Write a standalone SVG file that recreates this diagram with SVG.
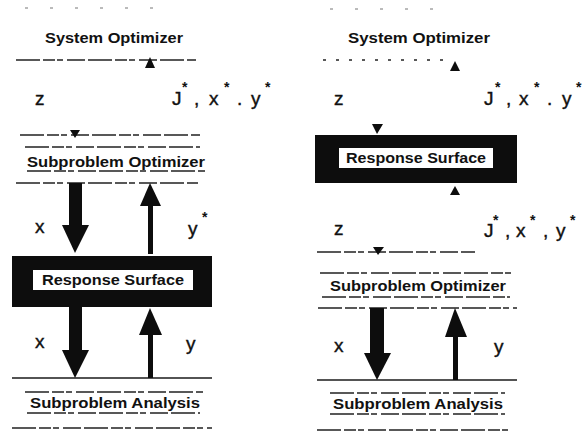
<svg xmlns="http://www.w3.org/2000/svg" width="585" height="431" viewBox="0 0 585 431">
<defs>
<style>
.lbl{font-family:"Liberation Sans",Arial,sans-serif;font-weight:bold;font-size:15px;fill:#111;text-anchor:middle}
.var{font-family:"Liberation Sans",Arial,sans-serif;font-size:19px;fill:#111;stroke:#111;stroke-width:0.4}
.st{font-family:"Liberation Sans",Arial,sans-serif;font-weight:bold;font-size:14px;fill:#111}
.ln{stroke:#1a1a1a;stroke-width:1.3;fill:none}
.dl{stroke:#222;stroke-width:1.3;fill:none;stroke-dasharray:24 3 12 2 6 4 18 3}
.fl{stroke:#777;stroke-width:1;fill:none;stroke-dasharray:3 22}
.blk{fill:#0d0d0d}
</style>
</defs>
<rect width="585" height="431" fill="#fff"/>

<!-- LEFT PANEL -->
<g id="L-system-optimizer">
<line class="fl" x1="25" y1="8" x2="167" y2="8"/>
<text class="lbl" x="114" y="43" textLength="138" lengthAdjust="spacingAndGlyphs">System Optimizer</text>
<line class="dl" x1="16" y1="60" x2="196" y2="60"/>
</g>
<g id="L-vars-top">
<text class="var" x="35" y="105">z</text>
<text class="var" x="172" y="105">J</text><text class="st" x="182" y="92">*</text>
<text class="var" x="194" y="105">,</text>
<text class="var" x="209" y="105">x</text><text class="st" x="224" y="92">*</text>
<text class="var" x="237" y="105">.</text>
<text class="var" x="251" y="105">y</text><text class="st" x="265" y="92">*</text>
</g>
<g id="L-subproblem-optimizer">
<line class="dl" x1="20" y1="135" x2="200" y2="135"/>
<line class="dl" x1="25" y1="147" x2="200" y2="147"/>
<text class="lbl" x="116" y="167" textLength="178" lengthAdjust="spacingAndGlyphs">Subproblem Optimizer</text>
<line class="dl" x1="27" y1="171" x2="205" y2="171"/>
<line class="dl" x1="16" y1="183" x2="198" y2="183"/>
</g>
<g id="L-response-surface">
<rect class="blk" x="12" y="256" width="200" height="51"/>
<rect x="33" y="270" width="160" height="20" fill="#fff"/>
<text class="lbl" x="113" y="285" font-size="13" textLength="142" lengthAdjust="spacingAndGlyphs">Response Surface</text>
</g>
<g id="L-subproblem-analysis">
<line class="ln" x1="12" y1="378" x2="212" y2="378"/>
<line class="dl" x1="25" y1="392" x2="203" y2="392"/>
<text class="lbl" x="115" y="408" textLength="170" lengthAdjust="spacingAndGlyphs">Subproblem Analysis</text>
<line class="dl" x1="27" y1="413" x2="200" y2="413"/>
<line class="dl" x1="12" y1="428" x2="212" y2="428"/>
</g>
<g id="L-vars-mid">
<text class="var" x="35" y="233">x</text>
<text class="var" x="188" y="235">y</text><text class="st" x="202" y="222">*</text>
<text class="var" x="35" y="348">x</text>
<text class="var" x="186" y="350">y</text>
</g>

<!-- RIGHT PANEL -->
<g id="R-system-optimizer">
<line class="fl" x1="330" y1="9" x2="440" y2="9"/>
<text class="lbl" x="419" y="43" textLength="142" lengthAdjust="spacingAndGlyphs">System Optimizer</text>
<line class="dl" x1="323" y1="60" x2="453" y2="60" style="stroke-dasharray:3 10"/>
</g>
<g id="R-vars-top">
<text class="var" x="334" y="105">z</text>
<text class="var" x="484" y="105">J</text><text class="st" x="495" y="92">*</text>
<text class="var" x="506" y="105">,</text>
<text class="var" x="519" y="105">x</text><text class="st" x="534" y="92">*</text>
<text class="var" x="547" y="105">.</text>
<text class="var" x="562" y="105">y</text><text class="st" x="576" y="92">*</text>
</g>
<g id="R-response-surface">
<rect class="blk" x="315" y="135" width="202" height="48"/>
<rect x="339" y="148" width="154" height="20" fill="#fff"/>
<text class="lbl" x="416" y="163" font-size="13" textLength="140" lengthAdjust="spacingAndGlyphs">Response Surface</text>
</g>
<g id="R-vars-mid">
<text class="var" x="334" y="235">z</text>
<text class="var" x="484" y="237">J</text><text class="st" x="493" y="225">*</text>
<text class="var" x="505" y="237">,</text>
<text class="var" x="516" y="237">x</text><text class="st" x="530" y="225">*</text>
<text class="var" x="543" y="237">,</text>
<text class="var" x="556" y="237">y</text><text class="st" x="570" y="225">*</text>
</g>
<g id="R-subproblem-optimizer">
<line class="dl" x1="317" y1="252" x2="475" y2="252"/>
<line class="dl" x1="320" y1="273" x2="515" y2="273"/>
<text class="lbl" x="418" y="291" textLength="176" lengthAdjust="spacingAndGlyphs">Subproblem Optimizer</text>
<line class="dl" x1="322" y1="297" x2="510" y2="297"/>
<line class="dl" x1="318" y1="308" x2="517" y2="308"/>
</g>
<g id="R-subproblem-analysis">
<line class="ln" x1="317" y1="380" x2="517" y2="380"/>
<line class="dl" x1="330" y1="393" x2="505" y2="393"/>
<text class="lbl" x="418" y="409" textLength="170" lengthAdjust="spacingAndGlyphs">Subproblem Analysis</text>
<line class="dl" x1="330" y1="414" x2="505" y2="414"/>
<line class="dl" x1="317" y1="430" x2="510" y2="430"/>
</g>
<g id="R-vars-low">
<text class="var" x="334" y="352">x</text>
<text class="var" x="494" y="353">y</text>
</g>

<!-- CONNECTORS -->
<g id="connectors" fill="#0d0d0d">
<!-- left -->
<polygon points="145,68 155,68 150,57"/>
<polygon points="70,130 80,130 75,138"/>
<rect x="69" y="183" width="13" height="43"/>
<polygon points="62,225 89,225 75,253"/>
<rect x="148" y="204" width="5" height="50"/>
<polygon points="140,206 161,206 150,183"/>
<rect x="69" y="306" width="13" height="45"/>
<polygon points="62,350 89,350 75,378"/>
<rect x="148" y="333" width="5" height="45"/>
<polygon points="139,335 162,335 150,308"/>
<!-- right -->
<polygon points="450,71 460,71 455,61"/>
<polygon points="372,124 383,124 377,134"/>
<polygon points="450,195 460,195 455,186"/>
<polygon points="373,247 384,247 378,255"/>
<rect x="370" y="308" width="14" height="46"/>
<polygon points="364,353 391,353 377,380"/>
<rect x="453" y="335" width="5" height="45"/>
<polygon points="445,337 467,337 455,308"/>
</g>
</svg>
